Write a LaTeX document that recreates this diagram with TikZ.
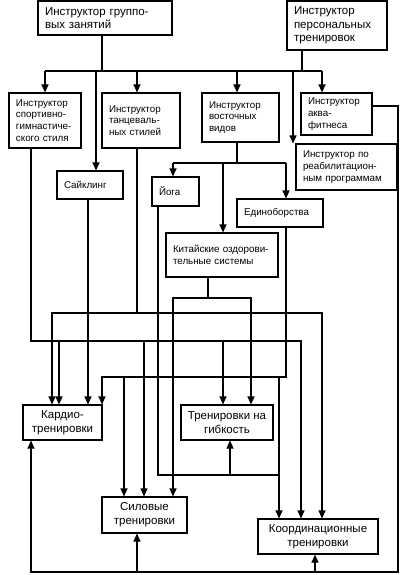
\documentclass[tikz,border=0pt]{standalone}
\usepackage{fontspec}
\setmainfont{Liberation Sans}
\usetikzlibrary{arrows.meta}
\newcommand{\topfont}{\fontsize{11.5}{13.3}\selectfont}
\newcommand{\midfont}{\fontsize{9.8}{11.7}\selectfont}
\newcommand{\lowfont}{\fontsize{11.5}{14}\selectfont}
\begin{document}
\begin{tikzpicture}[x=1pt,y=-1pt,line width=1.1pt,
  box/.style={draw, inner xsep=7pt, inner ysep=2pt, align=left, font=\midfont},
  goal/.style={draw, inner sep=2pt, align=center, font=\lowfont},
  arr/.style={-{Triangle[width=7pt,length=8pt]}}]
\useasboundingbox (0,0) rectangle (400,575);

 % instructors
 \node[box, font=\topfont, text width=120pt, minimum height=34pt] (grp) at (105,18) {Инструктор группо-\\вых занятий};
 \node[box, font=\topfont, text width=86pt, minimum height=49pt] (pers) at (337,25.5) {Инструктор\\персональных\\тренировок};
 \node[box, text width=58pt, minimum height=55pt] (sport) at (45,120.5) {Инструктор\\спортивно-\\гимнастиче-\\ского стиля};
 \node[box, text width=64pt, minimum height=55pt] (dance) at (141,120.5) {Инструктор\\танцеваль-\\ных стилей};
 \node[box, text width=63pt, minimum height=49pt] (east) at (240.5,117.5) {Инструктор\\восточных\\видов};
 \node[box, text width=57pt, minimum height=42pt] (aqua) at (336.5,114) {Инструктор\\аква-\\фитнеса};
 \node[box, text width=87pt, minimum height=46pt] (rehab) at (346.5,167) {Инструктор по\\реабилитацион-\\ным программам};
 % kinds
 \node[box, text width=52pt, minimum height=28pt] (cycl) at (90,185) {Сайклинг};
 \node[box, text width=33pt, minimum height=29pt] (yoga) at (175.5,191.5) {Йога};
 \node[box, text width=72pt, minimum height=28pt] (mart) at (280,213) {Единоборства};
 \node[box, text width=98pt, minimum height=44pt] (chin) at (222,255) {Китайские оздорови-\\тельные системы};
 % trainings
 \node[goal, minimum width=79pt, minimum height=35pt] (cardio) at (62.5,422.5) {Кардио-\\тренировки};
 \node[goal, minimum width=92pt, minimum height=35pt] (flex) at (227,422.5) {Тренировки на\\гибкость};
 \node[goal, minimum width=85pt, minimum height=36pt] (power) at (144.5,515) {Силовые\\тренировки};
 \node[goal, minimum width=120pt, minimum height=35pt] (coord) at (318,536.5) {Координационные\\тренировки};

 % top bus
 \coordinate (top1) at (45,71);
 \coordinate (top2) at (322,71);
 \draw (grp.south -| 102,0) -- (102,71);
 \draw (pers.south -| 302,0) -- (302,71);
 \draw (top1) -- (top2);
 \draw[arr] (top1) -- (sport.north);
 \draw[arr] (96,71) -- (cycl.north -| 96,0);
 \draw[arr] (137,71) -- (dance.north -| 137,0);
 \draw[arr] (237,71) -- (east.north -| 237,0);
 \draw[arr] (293,71) -- (rehab.north -| 293,0);
 \draw[arr] (top2) -- (aqua.north -| top2);

 % eastern
 \draw (east.south -| 237,0) -- (237,163);
 \draw (173,163) -- (286,163);
 \draw[arr] (173,163) -- (yoga.north -| 173,0);
 \draw[arr] (223,163) -- (chin.north -| 223,0);
 \draw[arr] (286,163) -- (mart.north -| 286,0);

 % cycling
 \draw[arr] (cycl.south -| 88,0) -- (cardio.north -| 88,0);

 % sport
 \draw[arr] (sport.south -| 31,0) -- (31,341) -- (301,341) -- (coord.north -| 301,0);
 \draw[arr] (59,341) -- (cardio.north -| 59,0);
 \draw[arr] (144,341) -- (power.north -| 144,0);
 \draw[arr] (223,341) -- (flex.north -| 223,0);

 % dance
 \draw (dance.south -| 137,0) -- (137,313);
 \draw[arr] (137,313) -- (52,313) -- (cardio.north -| 52,0);
 \draw[arr] (137,313) -- (322,313) -- (coord.north -| 322,0);

 % yoga
 \draw (yoga.south -| 158,0) -- (158,475) -- (279,475);
 \draw[arr] (230,475) -- (flex.south -| 230,0);

 % chinese
 \draw (chin.south -| 208,0) -- (208,298);
 \draw[arr] (208,298) -- (173,298) -- (power.north -| 173,0);
 \draw[arr] (208,298) -- (251,298) -- (flex.north -| 251,0);

 % martial arts
 \draw[arr] (mart.south -| 286,0) -- (286,377) -- (102,377) -- (cardio.north -| 102,0);
 \draw[arr] (124,377) -- (power.north -| 124,0);
 \draw[arr] (279,377) -- (coord.north -| 279,0);

 % aqua
 \draw[arr] (aqua.east |- 0,106) -- (398,106) -- (398,572) -- (31,572) -- (cardio.south -| 31,0);
 \draw[arr] (137,572) -- (power.south -| 137,0);
 \draw[arr] (315,572) -- (coord.south -| 315,0);

\end{tikzpicture}
\end{document}
